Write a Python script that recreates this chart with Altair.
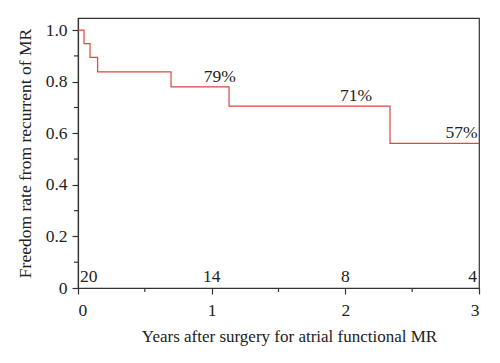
import altair as alt
import pandas as pd

# Kaplan-Meier steps (years, freedom rate)
step_t = [0.0, 0.045, 0.09, 0.147, 0.696, 1.13, 2.334, 3.0]
step_s = [1.0, 0.948, 0.894, 0.838, 0.78, 0.705, 0.561, 0.561]

# Percent annotations
pct_x = [1.06, 2.08, 2.99]
pct_y = [0.78, 0.705, 0.561]
pct_txt = ["79%", "71%", "57%"]

# Numbers at risk
risk_x = [0, 1, 2, 3]
risk_txt = ["20", "14", "8", "4"]

x_minor = [0.5, 1.5, 2.5]
y_minor = [0.1, 0.3, 0.5, 0.7, 0.9]

FONT = "Liberation Serif"
RED = "#e0443c"
INK = "#222222"
FS = 17.5

km = pd.DataFrame({"t": step_t, "s": step_s})
pct = pd.DataFrame({"x": pct_x, "y": pct_y, "label": pct_txt})
risk = pd.DataFrame({"x": risk_x, "label": risk_txt, "y": [0] * 4})
xm = pd.DataFrame({"x": x_minor})
ym = pd.DataFrame({"y": y_minor})

xs = alt.Scale(domain=[0, 3], nice=False, zero=False)
ys = alt.Scale(domain=[0, 1.047], nice=False)

xaxis = alt.Axis(values=[0, 1, 2, 3], format="d", tickSize=6, labelPadding=7,
                 grid=False, title="Years after surgery for atrial functional MR",
                 titlePadding=10, titleX=211, titleFontSize=17)
yaxis = alt.Axis(values=[0, 0.2, 0.4, 0.6, 0.8, 1.0], tickSize=6, labelPadding=5,
                 grid=False, title="Freedom rate from recurrent of MR",
                 labelExpr="datum.value == 0 ? '0' : format(datum.value, '.1f')",
                 titlePadding=11)

line = alt.Chart(km).mark_line(interpolate="step-after", color=RED, strokeWidth=1.2).encode(
    x=alt.X("t:Q", scale=xs, axis=xaxis),
    y=alt.Y("s:Q", scale=ys, axis=yaxis),
)

def txt(df, align, dx, dy):
    return alt.Chart(df).mark_text(font=FONT, fontSize=FS, color=INK, align=align,
                                   baseline="alphabetic", dx=dx, dy=dy).encode(
        x=alt.X("x:Q", scale=xs), y=alt.Y("y:Q", scale=ys), text="label:N")

pct_left = txt(pct.iloc[:2], "center", 0, -5)
pct_right = txt(pct.iloc[2:], "right", 0, -5)
risk_first = txt(risk.iloc[:1], "left", 2, -6)
risk_mid = txt(risk.iloc[1:3], "center", 0, -6)
risk_last = txt(risk.iloc[3:], "right", -2, -6)

xminor = alt.Chart(xm).mark_rule(color="#333333", strokeWidth=1.2).encode(
    x=alt.X("x:Q", scale=xs), y=alt.value(270), y2=alt.value(274))
yminor = alt.Chart(ym).mark_rule(color="#333333", strokeWidth=1.2).encode(
    y=alt.Y("y:Q", scale=ys), x=alt.value(-4), x2=alt.value(0))

chart = alt.layer(line, pct_left, pct_right, risk_first, risk_mid, risk_last,
                  xminor, yminor).properties(
    width=401, height=270,
    autosize=alt.AutoSizeParams(type="none"),
    padding={"left": 70, "top": 10, "right": 12, "bottom": 60},
).configure_view(stroke="#333333", strokeWidth=1.2).configure_axis(
    labelFont=FONT, titleFont=FONT, labelFontSize=FS, titleFontSize=FS,
    labelColor=INK, titleColor=INK, titleFontWeight="normal",
    domainColor="#333333", tickColor="#333333", domainWidth=1.2, tickWidth=1.2,
)

chart.save("out.html", embed_options={"renderer": "svg", "actions": False})
